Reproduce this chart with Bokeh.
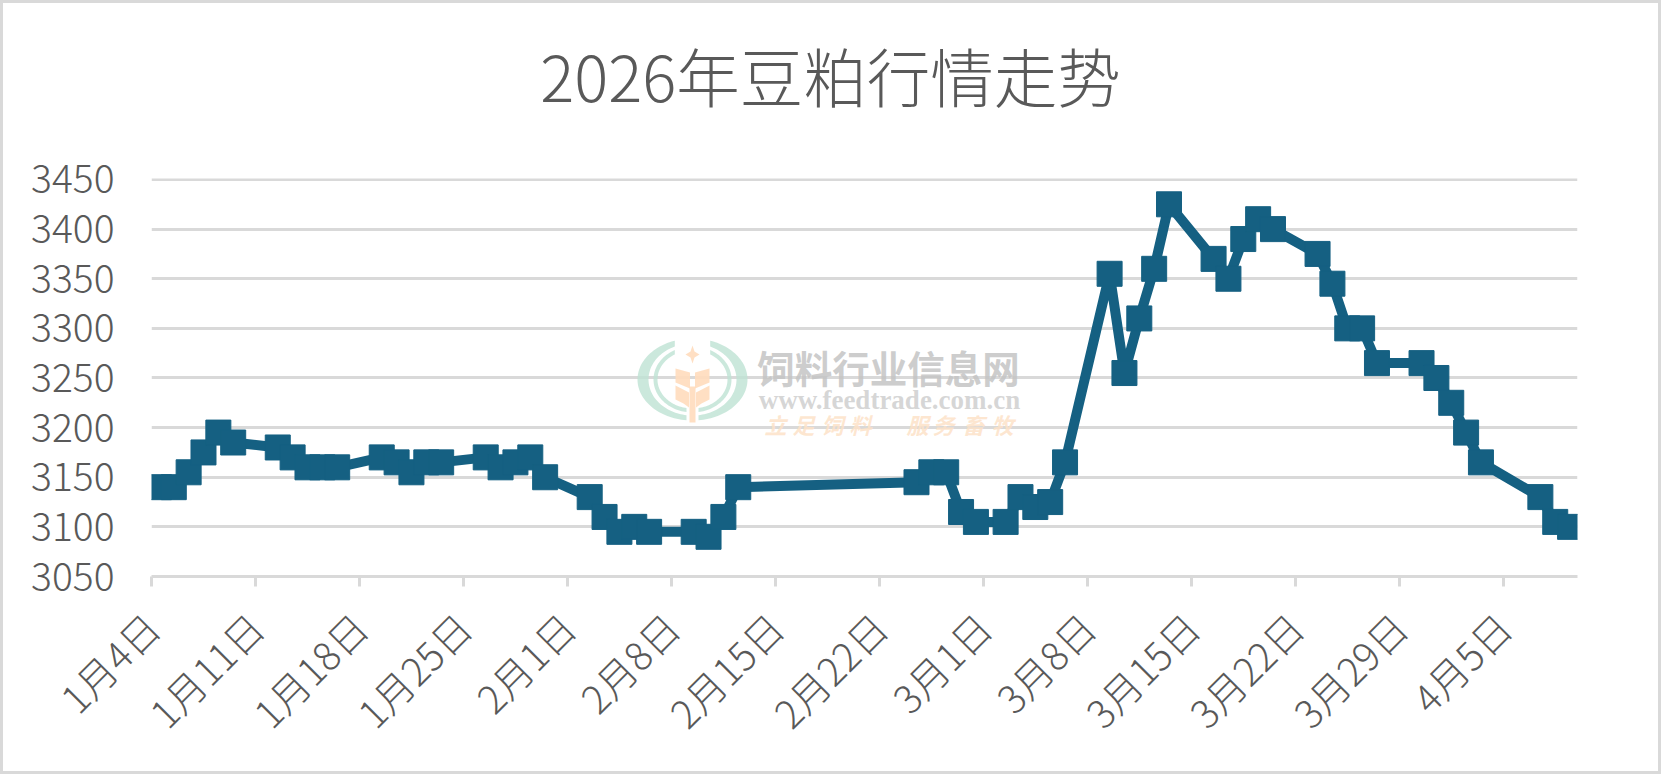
import datetime as dt
import numpy as np
from bokeh.embed import file_html
from bokeh.models import Range1d, FixedTicker, Label, ColumnDataSource, LinearAxis
from bokeh.plotting import figure
from bokeh.resources import INLINE

TITLE = "2026年豆粕行情走势"
START = dt.date(2026, 1, 4)
DAY_OFFSETS = [0, 1, 2, 3, 4, 5, 8, 9, 10, 11, 12, 15, 16, 17, 18, 19, 22, 23, 24, 25, 26,
               29, 30, 31, 32, 33, 36, 37, 38, 39, 51, 52, 53, 54, 55, 57, 58, 59, 60, 61,
               64, 65, 66, 67, 68, 71, 72, 73, 74, 75, 78, 79, 80, 81, 82, 85, 86, 87, 88, 89,
               93, 94, 95]
PRICES = [3140, 3140, 3155, 3175, 3195, 3185, 3180, 3170, 3160, 3160, 3160, 3170, 3165, 3155,
          3165, 3165, 3170, 3160, 3165, 3170, 3150, 3130, 3110, 3095, 3100, 3095, 3095, 3090,
          3110, 3140, 3145, 3155, 3155, 3115, 3105, 3105, 3130, 3120, 3125, 3165, 3355, 3255,
          3310, 3360, 3425, 3370, 3350, 3390, 3410, 3400, 3375, 3345, 3300, 3300, 3265, 3265,
          3250, 3225, 3195, 3165, 3130, 3105, 3100]
Y_TICKS = [3050, 3100, 3150, 3200, 3250, 3300, 3350, 3400, 3450]
X_TICK_DAYS = list(range(0, 92, 7))

FONT = "Noto Sans CJK SC Light, Noto Sans CJK SC"
WM_FONT = "Noto Sans CJK SC"
GREY = "#595959"
LINE = "#156082"
RULE = "#d9d9d9"

W, H = 1661, 774
BORDER = 3
L, R, T, B = 151, 1577, 178, 576
TITLE_CENTRE = 830

p = figure(width=W - 2 * BORDER, height=H - 2 * BORDER, output_backend="svg", toolbar_location=None,
           x_range=Range1d(0, 96), y_range=Range1d(3050, 3451),
           min_border_left=L - BORDER, min_border_right=W - R - BORDER,
           min_border_top=T - BORDER, min_border_bottom=H - B - BORDER,
           background_fill_color="white", border_fill_color="white")
p.styles = {"position": "absolute", "left": f"{BORDER}px", "top": f"{BORDER}px",
            "outline": f"{BORDER}px solid {RULE}"}
p.outline_line_color = None
p.extra_x_ranges = {"px": Range1d(L, R)}
p.extra_y_ranges = {"px": Range1d(B, T)}

# the chart title, set above the frame at an exact distance
title_axis = LinearAxis(x_range_name="px", ticker=FixedTicker(ticks=[TITLE_CENTRE]),
                        major_label_overrides={TITLE_CENTRE: TITLE},
                        axis_line_color=None, major_tick_line_color=None, minor_tick_line_color=None,
                        major_label_standoff=53, major_label_text_font=FONT,
                        major_label_text_font_size="63.5px", major_label_text_color=GREY)
p.add_layout(title_axis, "above")

p.xgrid.visible = False
p.ygrid.ticker = FixedTicker(ticks=Y_TICKS)
p.ygrid.grid_line_color = RULE
p.ygrid.grid_line_width = 3

ya = p.yaxis[0]
ya.ticker = FixedTicker(ticks=Y_TICKS)
ya.axis_line_color = None
ya.major_tick_line_color = None
ya.minor_tick_line_color = None
ya.major_label_standoff = 31
ya.major_label_text_font = FONT
ya.major_label_text_font_size = "39px"
ya.major_label_text_color = GREY

xa = p.below[0]
xa.ticker = FixedTicker(ticks=X_TICK_DAYS)
xa.major_label_overrides = {d: f"{(START + dt.timedelta(days=d)).month}月{(START + dt.timedelta(days=d)).day}日"
                            for d in X_TICK_DAYS}
xa.major_label_orientation = np.pi / 4
xa.axis_line_color = RULE
xa.axis_line_width = 3
xa.major_tick_line_color = RULE
xa.major_tick_line_width = 3
xa.major_tick_in = 0
xa.major_tick_out = 10
xa.minor_tick_line_color = None
xa.major_label_standoff = 33
xa.major_label_text_font = FONT
xa.major_label_text_font_size = "39px"
xa.major_label_text_color = GREY

# watermark, in page pixel coordinates through the "px" ranges
TEAL = "#bee2d3"
PEACH = "#ffdcbd"


def ring(cx, cy, rx1, ry1, rx2, ry2, side):
    t = np.linspace(np.arcsin(17.7 / rx1), np.pi - np.arcsin(6.0 / rx1), 60)
    xo, yo = cx + side * rx1 * np.sin(t), cy - ry1 * np.cos(t)
    t2 = np.linspace(np.pi - np.arcsin(6.0 / rx2), np.arcsin(17.7 / rx2), 60)
    xi, yi = cx + side * rx2 * np.sin(t2), cy - ry2 * np.cos(t2)
    return list(np.r_[xo, xi]), list(np.r_[yo, yi])


xs, ys = [], []
for side in (-1, 1):
    for a in ((55, 41, 44, 36), (39, 33, 35, 29)):
        x_, y_ = ring(692, 379, *a, side)
        xs.append(x_)
        ys.append(y_)
p.patches(xs, ys, fill_color=TEAL, fill_alpha=0.8, line_color=None,
          x_range_name="px", y_range_name="px", level="overlay")

wx, wy = [], []
for side in (-1, 1):
    wx.append([692 + side * 2.5, 692 + side * 17, 692 + side * 17, 692 + side * 2.5])
    wy.append([372, 368, 382, 388])
    wx.append([692 + side * 3.5, 692 + side * 17, 692 + side * 17, 692 + side * 9, 692 + side * 3.5])
    wy.append([392, 385, 399, 403, 407])
wx.append([689, 695, 695, 689])
wy.append([386, 386, 422, 422])
wx.append([692, 694, 699, 694, 692, 690, 685, 690])
wy.append([345, 351, 354, 357, 363, 357, 354, 351])
p.patches(wx, wy, fill_color=PEACH, fill_alpha=0.9, line_color=None,
          x_range_name="px", y_range_name="px", level="overlay")

WM_LABELS = [("饲料行业信息网", 888, 366, "37.5px", WM_FONT, "bold", "#c4c4c4"),
             ("www.feedtrade.com.cn", 889, 399, "27px", "Liberation Serif", "bold", "#cfcfcf")]
for ch, cx in zip("立足饲料服务畜牧", (775, 803, 832, 860, 917, 943, 973, 1002)):
    WM_LABELS.append((ch, cx, 423, "22px", WM_FONT, "bold italic", "#fde2c8"))
for txt, cx, cy, size, font, style, col in WM_LABELS:
    p.add_layout(Label(x=cx, y=cy, text=txt, x_range_name="px", y_range_name="px",
                       text_align="center", text_baseline="middle", text_font=font,
                       text_font_size=size, text_font_style=style, text_color=col, text_alpha=0.85))

src = ColumnDataSource(dict(x=[d + 0.5 for d in DAY_OFFSETS], y=PRICES))
p.line("x", "y", source=src, line_color=LINE, line_width=10, line_join="round")
p.scatter("x", "y", source=src, marker="square", size=25, fill_color=LINE, line_color=LINE, line_width=1)

open("out.html", "w").write(file_html(p, INLINE))
